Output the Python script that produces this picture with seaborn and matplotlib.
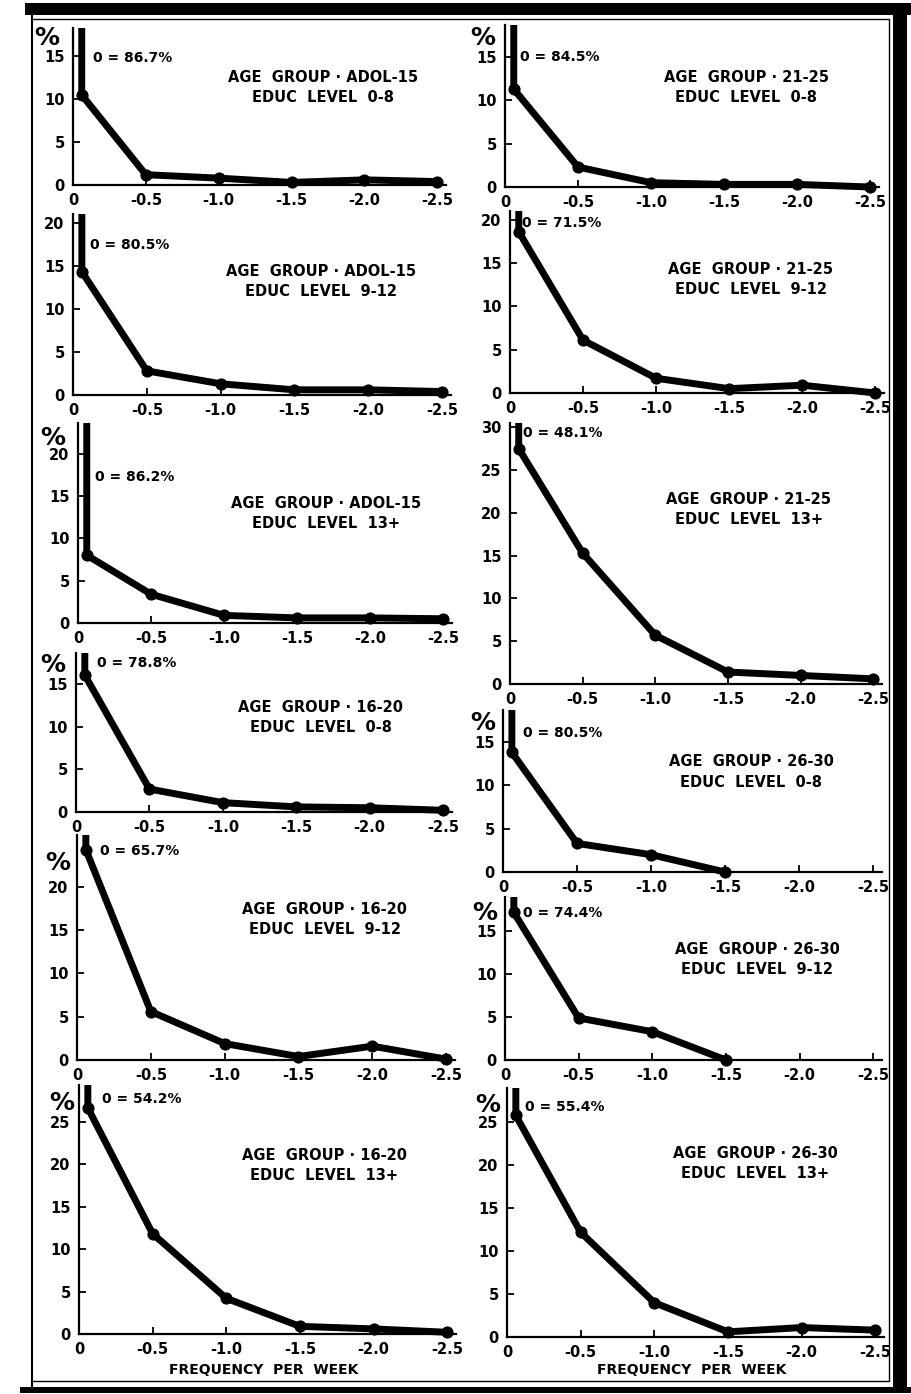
import matplotlib.pyplot as plt
import seaborn as sns
from matplotlib.patches import Rectangle
from matplotlib.lines import Line2D

# chart data
freq_labels = ['0', '-0.5', '-1.0', '-1.5', '-2.0', '-2.5']
freq_x = [0.06, 0.5, 1.0, 1.5, 2.0, 2.5]

age_groups = ['ADOL-15', 'ADOL-15', 'ADOL-15', '16-20', '16-20', '16-20',
              '21-25', '21-25', '21-25', '26-30', '26-30', '26-30']
educ_levels = ['0-8', '9-12', '13+', '0-8', '9-12', '13+',
               '0-8', '9-12', '13+', '0-8', '9-12', '13+']
zero_pct = [86.7, 80.5, 86.2, 78.8, 65.7, 54.2,
            84.5, 71.5, 48.1, 80.5, 74.4, 55.4]

pct_adol_0_8 = [10.5, 1.2, 0.8, 0.3, 0.6, 0.4]
pct_adol_9_12 = [14.3, 2.8, 1.3, 0.6, 0.6, 0.4]
pct_adol_13 = [8.0, 3.4, 0.9, 0.6, 0.6, 0.5]
pct_16_0_8 = [16.1, 2.7, 1.1, 0.6, 0.5, 0.2]
pct_16_9_12 = [24.3, 5.6, 1.9, 0.4, 1.6, 0.1]
pct_16_13 = [26.6, 11.8, 4.2, 0.9, 0.6, 0.2]
pct_21_0_8 = [11.3, 2.3, 0.5, 0.3, 0.3, 0.0]
pct_21_9_12 = [18.6, 6.1, 1.7, 0.5, 0.9, 0.0]
pct_21_13 = [27.5, 15.3, 5.7, 1.4, 1.0, 0.6]
pct_26_0_8 = [13.8, 3.3, 2.0, 0.0]
pct_26_9_12 = [17.2, 4.9, 3.3, 0.0]
pct_26_13 = [25.8, 12.2, 4.0, 0.6, 1.1, 0.8]

series = [pct_adol_0_8, pct_adol_9_12, pct_adol_13,
          pct_16_0_8, pct_16_9_12, pct_16_13,
          pct_21_0_8, pct_21_9_12, pct_21_13,
          pct_26_0_8, pct_26_9_12, pct_26_13]

y_max = [18.3, 21, 23.6, 18.7, 26, 29.3, 18.7, 21, 30.5, 18.7, 19, 29]
y_top_tick = [15, 20, 20, 15, 20, 25, 15, 20, 30, 15, 15, 25]
show_pct_sign = [True, False, True, True, True, True,
                 True, False, False, True, True, True]

# layout in pixels: left, right, y of zero, y of top
boxes = [(73, 446, 185, 28), (73, 451, 395, 214), (78, 452, 623, 423),
         (76, 452, 812, 653), (77, 455, 1060, 835), (79, 456, 1334, 1085),
         (505, 879, 187, 25), (510, 884, 393, 211), (510, 882, 684, 423),
         (503, 882, 872, 710), (505, 882, 1060, 897), (507, 884, 1337, 1088)]
zero_pos = [(93, 58), (90, 245), (95, 477), (97, 663), (100, 851), (102, 1099),
            (520, 57), (522, 223), (523, 433), (523, 733), (523, 913), (525, 1107)]
title_pos = [(323, 78), (321, 272), (326, 503), (321, 707), (325, 910), (324, 1156),
             (746, 78), (751, 270), (749, 500), (751, 762), (757, 950), (755, 1154)]
pct_pos = [(47, 38), None, (53, 438), (53, 665), (58, 863), (62, 1103),
           (483, 38), None, None, (483, 723), (485, 913), (488, 1105)]

W, H = 911, 1394

sns.set_style('ticks')
plt.rcParams['font.family'] = ['DejaVu Sans']
plt.rcParams['font.weight'] = 'bold'
for key in ['text.color', 'axes.labelcolor', 'xtick.color', 'ytick.color', 'axes.edgecolor']:
    plt.rcParams[key] = 'black'

fig = plt.figure(figsize=(W / 100, H / 100), dpi=100)


def fx(px):
    return px / W


def fy(py):
    return 1 - py / H


for i in range(12):
    l, r, y0, yt = boxes[i]
    ax = fig.add_axes([fx(l), fy(y0), (r - l) / W, (y0 - yt) / H])
    vals = series[i]
    xs = [freq_x[0]] + freq_x[:len(vals)]
    ys = [zero_pct[i]] + vals
    sns.lineplot(x=xs, y=ys, ax=ax, color='black', linewidth=5, marker='o',
                 markersize=8, markeredgecolor='black', estimator=None, sort=False)
    # clip only at the top so the off-scale zero bar is cut but end dots stay whole
    clip = Rectangle((-0.05, -0.1), 1.1, 1.1, transform=ax.transAxes)
    for ln in ax.lines:
        ln.set_clip_path(clip)
    ax.set_xlim(0, 2.56)
    ax.set_ylim(0, y_max[i])
    ax.set_xticks([0, 0.5, 1.0, 1.5, 2.0, 2.5])
    ax.set_xticklabels(freq_labels)
    ax.set_yticks(list(range(0, y_top_tick[i] + 1, 5)))
    sns.despine(ax=ax)
    ax.spines['left'].set_linewidth(1.6)
    ax.spines['bottom'].set_linewidth(1.6)
    ax.tick_params(direction='in', length=5, width=1.3, labelsize=10.5, pad=6,
                   colors='black')
    for lab in ax.get_xticklabels() + ax.get_yticklabels():
        lab.set_fontweight('bold')

    zx, zy = zero_pos[i]
    fig.text(fx(zx), fy(zy), f'0 = {zero_pct[i]}%', ha='left', va='center',
             fontsize=10, fontweight='bold')
    tx, ty = title_pos[i]
    fig.text(fx(tx), fy(ty), f'AGE  GROUP · {age_groups[i]}', ha='center',
             va='center', fontsize=10.5, fontweight='bold')
    fig.text(fx(tx), fy(ty + 20), f'EDUC  LEVEL  {educ_levels[i]}', ha='center',
             va='center', fontsize=10.5, fontweight='bold')
    if show_pct_sign[i]:
        px, py = pct_pos[i]
        fig.text(fx(px), fy(py), '%', ha='center', va='center',
                 fontsize=18, fontweight='bold')

fig.text(fx(264), fy(1370), 'FREQUENCY  PER  WEEK', ha='center', va='center',
         fontsize=10, fontweight='bold')
fig.text(fx(692), fy(1370), 'FREQUENCY  PER  WEEK', ha='center', va='center',
         fontsize=10, fontweight='bold')

# border frame
fig.add_artist(Rectangle((fx(25), fy(15)), (W - 25) / W, 12 / H, transform=fig.transFigure,
                         color='black', lw=0))
fig.add_artist(Rectangle((fx(893), fy(1393)), 14 / W, 1390 / H, transform=fig.transFigure,
                         color='black', lw=0))
fig.add_artist(Rectangle((fx(20), fy(1393)), (W - 20) / W, 6 / H, transform=fig.transFigure,
                         color='black', lw=0))
fig.add_artist(Line2D([fx(32), fx(32)], [fy(15), fy(1390)], transform=fig.transFigure,
                      color='black', lw=1.5))
fig.add_artist(Line2D([fx(32), fx(889), fx(889), fx(32)],
                      [fy(19), fy(19), fy(1381), fy(1381)], transform=fig.transFigure,
                      color='black', lw=1))

fig.savefig('out.png', dpi=100)
